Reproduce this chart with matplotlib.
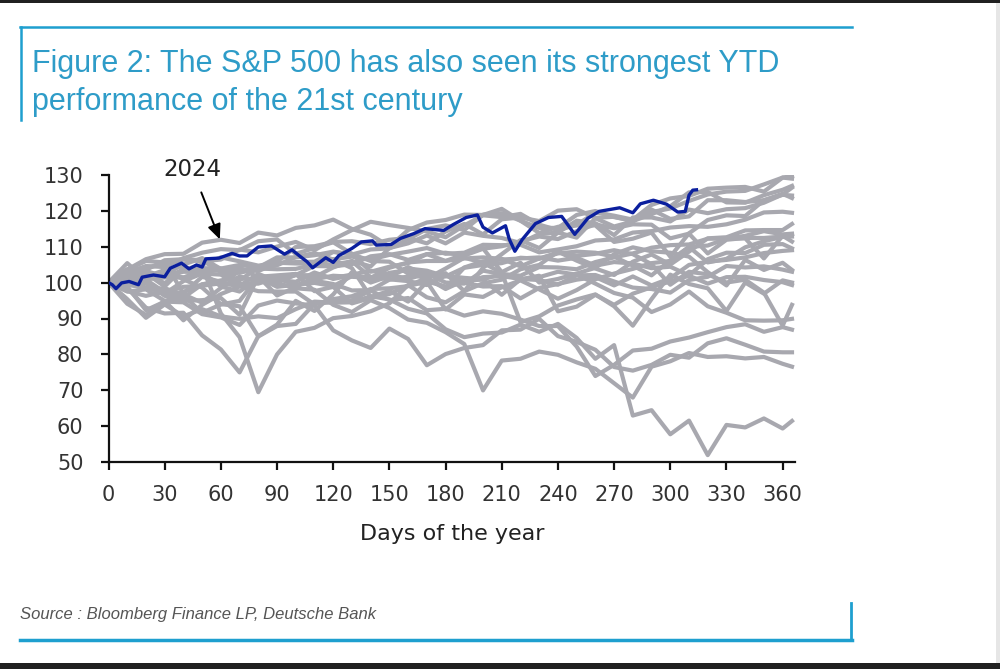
import matplotlib
matplotlib.use('Agg')
import matplotlib.pyplot as plt
from matplotlib.lines import Line2D
from matplotlib.patches import Rectangle

# Day-of-year grid for the past years (every 10 days, plus year end)
days = list(range(0, 361, 10)) + [365]

# S&P 500 indexed to 100 at the start of each year
y2000 = [100, 97.5, 98.1, 94.9, 96.4, 91.6, 93.9, 94.9, 101.6, 102.0, 102.4, 97.6, 98.8, 94.2, 95.7, 96.8, 99.2, 101.2, 98.2, 100.6, 100.8, 96.6, 100.9, 101.5, 103.0, 102.2, 99.7, 97.1, 95.8, 91.8, 93.9, 97.5, 93.4, 91.6, 89.5, 89.4, 89.5, 89.9]
y2001 = [100, 100.4, 101.6, 103.5, 100.9, 98.6, 94.0, 93.4, 85.0, 87.9, 88.5, 94.1, 94.6, 95.1, 97.8, 95.1, 95.7, 92.3, 92.7, 90.8, 92.0, 91.3, 89.7, 87.9, 87.9, 82.2, 74.0, 77.1, 81.1, 81.6, 83.6, 84.7, 86.2, 87.6, 88.4, 86.3, 87.6, 86.9]
y2002 = [100, 99.8, 98.2, 98.4, 96.7, 94.4, 98.5, 101.7, 100.4, 99.9, 98.4, 98.0, 93.8, 91.8, 95.1, 92.9, 89.7, 88.8, 86.2, 82.9, 70.0, 78.3, 78.8, 80.8, 79.9, 77.8, 76.0, 72.0, 68.0, 76.6, 78.1, 80.4, 79.3, 79.5, 78.9, 79.3, 77.4, 76.6]
y2003 = [100, 105.4, 100.8, 97.3, 94.9, 95.1, 95.7, 91.0, 101.7, 96.4, 98.7, 101.5, 104.2, 106.0, 104.5, 109.6, 110.9, 113.1, 110.9, 113.9, 113.0, 112.4, 111.0, 113.5, 113.9, 117.2, 116.5, 113.2, 118.1, 118.1, 117.0, 120.3, 119.3, 120.4, 120.7, 122.2, 124.5, 126.4]
y2004 = [100, 101.4, 103.2, 101.7, 103.0, 102.9, 103.9, 99.6, 99.7, 101.3, 102.4, 100.5, 99.6, 97.8, 97.9, 100.8, 101.7, 102.1, 101.9, 100.0, 98.9, 99.0, 95.6, 98.5, 99.6, 100.8, 101.5, 99.2, 101.7, 99.2, 101.2, 104.9, 105.8, 106.3, 107.0, 108.2, 108.8, 109.0]
y2005 = [100, 97.6, 96.3, 97.5, 98.8, 99.1, 99.8, 99.0, 97.6, 97.5, 97.5, 93.9, 95.4, 96.2, 98.2, 98.4, 99.0, 100.3, 98.9, 100.0, 101.5, 101.8, 101.0, 100.7, 99.4, 102.0, 102.1, 100.3, 98.6, 98.2, 97.2, 100.7, 101.6, 104.6, 104.2, 104.5, 103.6, 103.0]
y2006 = [100, 103.7, 101.1, 102.5, 101.4, 103.1, 103.4, 102.7, 103.9, 103.7, 103.8, 105.0, 105.0, 105.9, 101.5, 100.9, 100.4, 99.3, 101.9, 101.3, 100.9, 102.4, 101.9, 104.3, 104.2, 103.7, 105.7, 107.0, 108.1, 109.7, 110.4, 110.6, 112.2, 112.2, 113.0, 114.3, 113.4, 113.6]
y2007 = [100, 100.4, 100.9, 101.4, 101.4, 102.9, 98.9, 97.5, 101.2, 100.2, 102.1, 104.6, 104.5, 105.1, 107.3, 107.9, 106.3, 107.9, 106.0, 107.9, 109.5, 102.9, 105.5, 100.0, 101.0, 102.5, 104.1, 107.9, 109.8, 108.7, 108.3, 107.2, 102.9, 99.2, 106.3, 103.5, 105.5, 103.5]
y2008 = [100, 95.4, 90.2, 93.9, 90.6, 92.6, 90.6, 89.9, 90.6, 90.1, 92.6, 94.7, 94.4, 94.5, 96.2, 95.3, 92.7, 91.4, 87.0, 84.8, 85.8, 86.1, 88.3, 86.3, 88.5, 84.6, 78.8, 82.6, 63.0, 64.5, 57.8, 61.6, 52.0, 60.4, 59.7, 62.2, 59.4, 61.5]
y2009 = [100, 98.5, 93.0, 91.4, 91.6, 85.3, 81.4, 75.0, 85.1, 88.3, 94.9, 92.1, 96.7, 102.9, 100.0, 101.8, 104.3, 102.0, 102.6, 97.6, 104.1, 107.9, 111.8, 109.6, 113.9, 112.5, 117.9, 115.6, 117.0, 120.3, 117.7, 118.4, 122.9, 122.9, 122.4, 122.9, 124.7, 123.5]
y2010 = [100, 102.9, 100.1, 96.3, 95.8, 99.5, 100.0, 103.1, 104.0, 104.8, 107.1, 108.2, 106.4, 104.0, 96.0, 97.7, 94.7, 100.2, 92.5, 96.7, 96.0, 98.7, 100.6, 98.1, 95.5, 97.9, 100.9, 102.5, 103.8, 105.4, 106.0, 109.9, 105.6, 106.6, 109.8, 111.5, 112.7, 112.8]
y2011 = [100, 101.4, 102.0, 102.3, 105.0, 106.8, 103.8, 103.7, 103.2, 105.4, 105.7, 105.8, 108.5, 107.9, 106.0, 105.8, 102.5, 101.1, 103.9, 106.9, 105.5, 102.7, 89.0, 90.6, 93.6, 95.3, 96.7, 93.4, 88.0, 95.4, 102.2, 99.6, 98.4, 92.1, 100.0, 96.9, 100.6, 100.0]
y2012 = [100, 102.7, 104.6, 104.3, 106.8, 108.3, 109.3, 109.0, 111.5, 112.0, 108.0, 109.6, 111.2, 108.0, 103.0, 104.4, 105.4, 107.9, 108.3, 107.5, 109.4, 110.1, 111.5, 112.8, 112.1, 114.3, 116.2, 115.1, 116.2, 116.1, 112.3, 113.6, 108.1, 111.9, 112.4, 112.4, 112.8, 113.4]
y2013 = [100, 103.2, 104.2, 105.0, 106.4, 105.9, 106.4, 109.2, 108.4, 110.0, 111.3, 109.0, 112.0, 114.6, 116.9, 116.0, 115.2, 114.2, 112.6, 115.9, 118.7, 118.2, 119.1, 116.1, 114.6, 116.0, 119.5, 118.6, 117.5, 121.6, 123.4, 124.1, 126.1, 126.4, 126.6, 125.3, 129.2, 129.6]
y2014 = [100, 99.7, 99.8, 96.5, 97.4, 99.5, 100.6, 101.1, 100.9, 101.3, 99.2, 100.9, 101.9, 101.6, 101.3, 104.1, 105.6, 106.0, 106.0, 106.7, 107.0, 106.6, 104.5, 106.7, 108.1, 108.6, 108.3, 107.2, 104.7, 102.0, 106.2, 109.9, 110.3, 112.2, 112.3, 106.7, 113.0, 111.4]
y2015 = [100, 99.3, 98.7, 96.9, 100.4, 102.5, 102.2, 99.1, 102.4, 100.4, 102.1, 102.0, 101.3, 102.2, 103.3, 102.3, 101.0, 102.5, 100.0, 99.7, 103.3, 102.4, 100.9, 101.9, 92.0, 93.3, 96.6, 93.8, 96.9, 98.7, 100.3, 101.9, 99.7, 101.5, 101.6, 100.7, 100.1, 99.3]
y2016 = [100, 94.1, 91.0, 94.9, 89.5, 93.8, 96.8, 98.9, 100.3, 100.8, 100.2, 102.8, 101.0, 102.0, 100.4, 102.7, 103.5, 101.3, 98.5, 104.2, 105.9, 106.4, 106.7, 107.0, 106.1, 106.9, 104.7, 105.7, 105.3, 104.0, 104.4, 102.0, 106.5, 108.3, 108.2, 110.5, 110.7, 109.5]
y2017 = [100, 101.6, 101.4, 101.8, 103.4, 105.0, 107.0, 105.9, 104.7, 105.5, 105.3, 105.2, 106.5, 107.2, 106.4, 107.7, 108.6, 109.6, 108.0, 108.3, 110.5, 110.4, 110.5, 108.4, 109.2, 110.1, 111.7, 112.0, 113.9, 114.3, 115.3, 115.7, 115.5, 116.2, 117.5, 119.5, 119.7, 119.4]
y2018 = [100, 103.5, 106.0, 105.6, 97.0, 101.6, 100.2, 104.2, 101.4, 98.8, 99.4, 99.9, 99.0, 101.8, 101.5, 101.9, 103.9, 103.3, 101.7, 104.1, 104.9, 105.4, 106.9, 106.6, 108.4, 107.4, 108.0, 109.0, 107.9, 105.1, 99.4, 103.0, 102.3, 100.0, 100.8, 97.2, 88.0, 93.8]
y2019 = [100, 103.6, 106.5, 107.9, 108.0, 111.1, 111.9, 111.0, 113.9, 113.1, 115.2, 115.9, 117.5, 114.9, 113.3, 110.0, 114.6, 116.7, 117.4, 118.9, 118.8, 120.5, 117.2, 115.2, 115.2, 118.8, 119.9, 118.2, 117.2, 119.6, 120.6, 122.7, 124.5, 125.3, 125.5, 127.3, 129.2, 128.9]
y2020 = [100, 101.1, 102.8, 99.8, 103.7, 104.4, 91.4, 84.8, 69.5, 80.0, 86.3, 87.4, 90.1, 90.7, 92.0, 94.2, 99.3, 95.9, 94.5, 97.6, 99.8, 100.8, 103.7, 104.9, 108.6, 106.1, 103.9, 102.1, 105.8, 107.8, 105.0, 108.6, 112.3, 112.6, 114.5, 114.6, 114.6, 116.3]
y2021 = [100, 101.1, 102.6, 98.9, 104.1, 104.0, 103.9, 104.9, 104.2, 105.8, 109.9, 110.1, 111.3, 111.5, 110.7, 111.9, 112.4, 110.9, 114.2, 116.3, 113.4, 117.6, 118.1, 117.1, 120.0, 120.4, 118.0, 118.3, 117.1, 119.0, 121.2, 125.1, 125.2, 122.3, 122.2, 124.3, 125.8, 126.9]
y2022 = [100, 98.9, 92.3, 94.7, 94.5, 91.2, 90.3, 88.2, 93.6, 95.0, 94.2, 93.6, 86.7, 83.9, 81.8, 87.2, 84.3, 77.0, 80.1, 81.8, 82.6, 86.7, 86.9, 89.9, 85.1, 83.5, 81.3, 76.5, 75.5, 77.1, 79.9, 79.1, 83.1, 84.5, 82.7, 80.8, 80.6, 80.6]
y2023 = [100, 103.4, 103.5, 106.2, 106.5, 106.2, 102.9, 100.6, 104.2, 107.0, 107.0, 107.6, 108.6, 107.8, 109.2, 109.5, 112.0, 114.9, 115.9, 114.6, 118.9, 119.3, 117.2, 113.8, 115.5, 115.9, 115.9, 111.3, 112.2, 113.9, 107.2, 113.7, 117.4, 118.7, 118.5, 122.9, 124.4, 124.2]

past_years = [y2000, y2001, y2002, y2003, y2004, y2005, y2006, y2007, y2008, y2009, y2010, y2011,
              y2012, y2013, y2014, y2015, y2016, y2017, y2018, y2019, y2020, y2021, y2022, y2023]

# 2024 (year to date)
days_2024 = [0, 2, 4, 7, 11, 16, 18, 24, 30, 33, 39, 43, 47, 50, 52, 59, 66, 70, 74, 80, 87, 94, 98,
             102, 106, 109, 116, 120, 123, 130, 135, 141, 143, 151, 156, 163, 169, 179, 184, 191, 197,
             200, 205, 212, 214, 217, 221, 228, 235, 242, 249, 256, 262, 273, 280, 284, 291, 298, 304,
             308, 310, 312, 314]
y2024 = [100, 99.4, 98.3, 99.9, 100.3, 99.4, 101.5, 102.1, 101.6, 104.0, 105.4, 103.8, 104.9, 104.3,
         106.6, 106.8, 108.1, 107.4, 107.4, 109.9, 110.2, 107.9, 109.1, 107.4, 105.8, 104.1, 106.9,
         105.6, 107.5, 109.5, 111.3, 111.6, 110.4, 110.6, 112.3, 113.6, 115.0, 114.5, 116.1, 118.1,
         118.8, 115.4, 113.8, 115.8, 112.1, 108.7, 112.0, 116.4, 118.1, 118.4, 113.4, 117.9, 119.8,
         120.8, 119.4, 121.9, 122.9, 121.8, 119.6, 119.8, 124.3, 125.7, 125.8]

x_ticks = list(range(0, 361, 30))
y_ticks = list(range(50, 131, 10))

title_lines = ['Figure 2: The S&P 500 has also seen its strongest YTD',
               'performance of the 21st century']
source = 'Source : Bloomberg Finance LP, Deutsche Bank'

W, H = 1000, 669
fig = plt.figure(figsize=(10, 6.69), dpi=100)
fig.patch.set_facecolor('white')


def fx(px):
    return px / W


def fy(py):
    return 1 - py / H


cyan = '#1E9FCF'

# screenshot borders
fig.add_artist(Rectangle((0, fy(3)), 1, 3 / H, transform=fig.transFigure, color='#202020', lw=0))
fig.add_artist(Rectangle((0, 0), 1, 6 / H, transform=fig.transFigure, color='#202020', lw=0))
fig.add_artist(Rectangle((fx(996), fy(663)), 4 / W, 660 / H, transform=fig.transFigure, color='#e6e6e6', lw=0))

# title frame
fig.add_artist(Line2D([fx(20), fx(852)], [fy(27), fy(27)], transform=fig.transFigure, color=cyan, lw=1.8))
fig.add_artist(Line2D([fx(21), fx(21)], [fy(27), fy(120)], transform=fig.transFigure, color=cyan, lw=1.8))
fig.add_artist(Line2D([fx(20), fx(852)], [fy(640), fy(640)], transform=fig.transFigure, color=cyan, lw=2.5))
fig.add_artist(Line2D([fx(851), fx(851)], [fy(603), fy(640)], transform=fig.transFigure, color=cyan, lw=2.0))

for txt, base in zip(title_lines, [72, 110]):
    fig.text(fx(32), fy(base), txt, fontsize=22, color='#2E9CC8',
             family=['Liberation Sans', 'DejaVu Sans'], va='baseline', ha='left')
fig.text(fx(20), fy(614), source, fontsize=12, color='#555555', style='italic',
         family=['Liberation Sans', 'DejaVu Sans'], va='center', ha='left')

ax = fig.add_axes([fx(108.5), fy(462.3), (795 - 108.5) / W, (462.3 - 174.7) / H])

for vals in past_years:
    ax.plot(days, vals, color='#A8A8AF', lw=3.0, solid_joinstyle='round', zorder=2)
ax.plot(days_2024, y2024, color='#0B1F9E', lw=2.4, solid_joinstyle='round', zorder=3)

ax.set_xlim(0, 366.6)
ax.set_ylim(50, 130)
ax.set_xticks(x_ticks)
ax.set_yticks(y_ticks)
for s in ['top', 'right']:
    ax.spines[s].set_visible(False)
for s in ['left', 'bottom']:
    ax.spines[s].set_linewidth(1.6)
    ax.spines[s].set_color('#111111')
ax.tick_params(axis='both', direction='out', length=6, width=1.6, color='#111111',
               labelsize=15, labelcolor='#333333')
ax.tick_params(axis='y', pad=12)
ax.tick_params(axis='x', pad=10)
ax.set_xlabel('Days of the year', fontsize=16, color='#222222', labelpad=14)

ax.annotate('', xy=(60, 111.3), xytext=(49, 125.8),
            arrowprops=dict(arrowstyle='-|>,head_length=0.9,head_width=0.4', color='black', lw=1.4),
            annotation_clip=False)
ax.text(45, 131.4, '2024', fontsize=16.5, color='#222222', ha='center', va='center', clip_on=False)

fig.savefig('out.png', dpi=100)
